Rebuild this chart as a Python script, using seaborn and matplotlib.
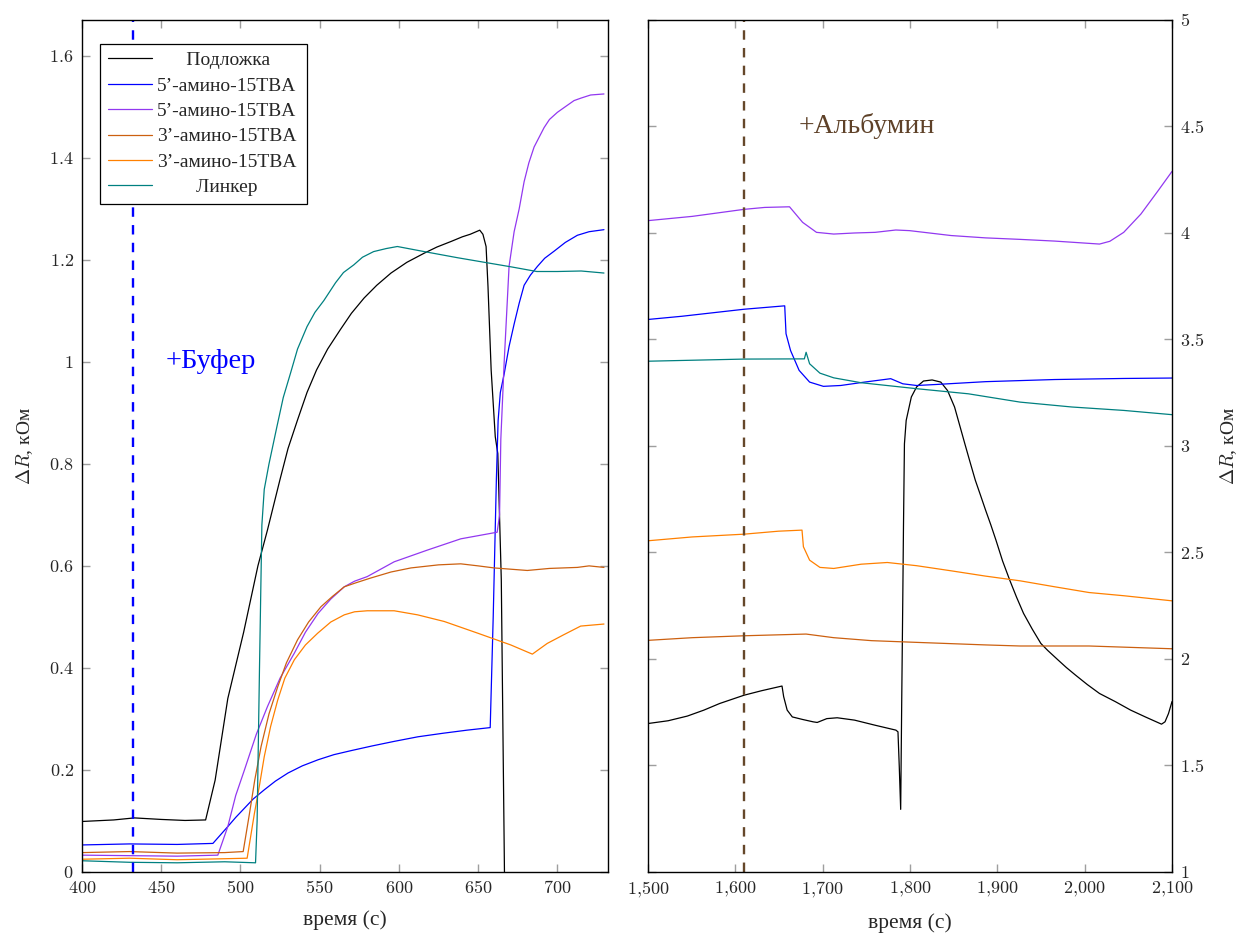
import numpy as np
import pandas as pd
import matplotlib
matplotlib.use('Agg')
import matplotlib.pyplot as plt
import seaborn as sns
from matplotlib.ticker import FuncFormatter, MultipleLocator

# --- data: left panel (буфер) ---
labels = ['Подложка', '5’-амино-15TBA', '5’-амино-15TBA', '3’-амино-15TBA', '3’-амино-15TBA', 'Линкер']
colors = ['black', '#0000ff', '#9238f0', '#cc6010', '#ff8000', '#008080']

l_x_podl = [400, 420, 433, 450, 465, 478, 484, 492, 502, 511, 517, 525, 530, 536, 542, 548, 555, 563, 570, 578,
            586, 595, 605, 616, 624, 633, 640, 645, 651, 653, 655, 656.2, 658.2, 660.8, 662.4, 664.6, 666.6, 667.5]
l_y_podl = [0.099, 0.102, 0.106, 0.103, 0.101, 0.102, 0.18, 0.34, 0.47, 0.60, 0.67, 0.77, 0.83, 0.886, 0.94, 0.984,
            1.025, 1.063, 1.095, 1.125, 1.15, 1.174, 1.195, 1.213, 1.225, 1.236, 1.245, 1.25, 1.258, 1.25, 1.226,
            1.148, 0.984, 0.853, 0.82, 0.573, 0.0, -0.1]

l_x_5a = [400, 430, 460, 482.6, 492, 497, 502.5, 508, 515, 522, 530, 539, 549, 559, 570, 583, 597, 612, 628, 643,
          657.6, 659.5, 661.5, 662.6, 664, 666.4, 669.5, 672.7, 675.9, 679, 683, 687.4, 692, 698, 705, 712.6, 720,
          729.4]
l_y_5a = [0.053, 0.055, 0.054, 0.056, 0.089, 0.107, 0.125, 0.143, 0.161, 0.178, 0.194, 0.208, 0.22, 0.23, 0.238,
          0.247, 0.256, 0.265, 0.272, 0.278, 0.283, 0.5, 0.77, 0.885, 0.94, 0.976, 1.03, 1.074, 1.115, 1.15, 1.17,
          1.187, 1.203, 1.217, 1.234, 1.248, 1.255, 1.259]

l_x_5b = [400, 430, 460, 485.7, 492, 497, 502.5, 510, 517, 525, 534, 541, 549, 557, 565.5, 572, 580, 597, 618, 639,
          662, 663.5, 664.3, 666.4, 669.5, 672.7, 675.9, 679, 682, 685.3, 691.6, 695, 700, 705, 710.5, 715, 721,
          729.4]
l_y_5b = [0.033, 0.032, 0.031, 0.033, 0.089, 0.15, 0.2, 0.27, 0.324, 0.38, 0.429, 0.47, 0.507, 0.535, 0.559, 0.57,
          0.579, 0.608, 0.631, 0.653, 0.666, 0.7, 0.848, 0.998, 1.187, 1.255, 1.30, 1.353, 1.39, 1.421, 1.459, 1.475,
          1.489, 1.50, 1.512, 1.517, 1.523, 1.525]

l_x_3a = [400, 430, 460, 490, 501.7, 505.7, 509, 513, 518, 523.5, 529, 536, 543, 550.8, 558, 565.5, 573, 582, 595,
          607.6, 625, 639, 650, 660, 681, 695, 712.6, 720, 729.4]
l_y_3a = [0.038, 0.04, 0.037, 0.038, 0.04, 0.115, 0.18, 0.246, 0.31, 0.363, 0.41, 0.455, 0.49, 0.52, 0.54, 0.559,
          0.567, 0.576, 0.588, 0.596, 0.602, 0.604, 0.6, 0.596, 0.591, 0.595, 0.597, 0.6, 0.597]

l_x_3b = [400, 430, 460, 490, 504.2, 508.8, 512, 515, 519, 523.5, 528, 534, 541, 548.7, 557, 565.5, 572, 580, 597,
          611.8, 628.6, 649.8, 670.6, 684.2, 693.6, 704, 714.7, 729.4]
l_y_3b = [0.025, 0.027, 0.024, 0.026, 0.027, 0.115, 0.17, 0.226, 0.285, 0.337, 0.38, 0.416, 0.445, 0.468, 0.49,
          0.504, 0.51, 0.512, 0.512, 0.504, 0.491, 0.468, 0.445, 0.427, 0.448, 0.465, 0.482, 0.486]

l_x_link = [400, 430, 460, 490, 509.5, 510.5, 512, 513.5, 515, 518, 523, 527, 531.6, 536, 542, 547, 552.6, 560,
            565, 571.5, 577, 584, 592, 599, 616, 637, 654, 671, 687, 700, 715, 729.4]
l_y_link = [0.022, 0.019, 0.018, 0.02, 0.018, 0.1, 0.4, 0.68, 0.75, 0.80, 0.873, 0.93, 0.978, 1.025, 1.069, 1.097,
            1.12, 1.155, 1.175, 1.19, 1.205, 1.216, 1.222, 1.226, 1.216, 1.204, 1.195, 1.186, 1.177, 1.177, 1.178,
            1.174]

# --- data: right panel (альбумин) ---
r_x_podl = [1500, 1523, 1545, 1564, 1582, 1610, 1630, 1653.4, 1655.3, 1659.3, 1665.2, 1677, 1689, 1693.7, 1704.7,
            1716.6, 1736.4, 1760, 1783.8, 1786.2, 1787.7, 1789.3, 1790.5, 1791.7, 1792.5, 1793.6, 1795.6, 1801.5,
            1807.5, 1815.4, 1825.3, 1835.2, 1843, 1851, 1862.8, 1868.7, 1874.7, 1880.6, 1886.6, 1892.5, 1898.4, 1906,
            1914.2, 1922, 1930, 1940, 1949.8, 1957.7, 1969.6, 1979, 1989.3, 2003, 2017, 2035, 2052.6, 2070, 2088,
            2092, 2096, 2100]
r_y_podl = [1.697, 1.71, 1.732, 1.76, 1.791, 1.83, 1.851, 1.873, 1.823, 1.76, 1.728, 1.716, 1.705, 1.702, 1.72,
            1.724, 1.713, 1.689, 1.666, 1.658, 1.493, 1.294, 1.807, 2.28, 2.62, 3.01, 3.12, 3.23, 3.277, 3.305, 3.31,
            3.3, 3.26, 3.183, 3.01, 2.925, 2.84, 2.77, 2.698, 2.63, 2.558, 2.46, 2.37, 2.29, 2.214, 2.14, 2.073, 2.04,
            1.995, 1.96, 1.925, 1.88, 1.838, 1.80, 1.76, 1.727, 1.694, 1.705, 1.744, 1.8]

r_x_5a = [1500, 1538.7, 1610, 1656.5, 1658, 1663.2, 1673, 1685, 1700.8, 1720.6, 1748, 1777.9, 1791.7, 1807.5, 1831,
          1886.6, 1965.6, 2044.7, 2100]
r_y_5a = [3.594, 3.609, 3.642, 3.658, 3.527, 3.448, 3.355, 3.3, 3.28, 3.284, 3.3, 3.316, 3.292, 3.284, 3.289,
          3.302, 3.312, 3.317, 3.319]

r_x_5b = [1500, 1550.6, 1610, 1633.6, 1662, 1677, 1692.9, 1712.6, 1736.4, 1760, 1783.7, 1799.5, 1847, 1886.6,
          1926, 1965.6, 2017, 2028.8, 2044.7, 2064.4, 2084, 2100]
r_y_5b = [4.058, 4.078, 4.111, 4.12, 4.123, 4.05, 4.003, 3.995, 4.0, 4.003, 4.014, 4.011, 3.988, 3.977, 3.97,
          3.962, 3.948, 3.961, 4.003, 4.089, 4.198, 4.289]

r_x_3a = [1500, 1550.6, 1610, 1681, 1712.6, 1756, 1807.5, 1886.6, 1926, 2005, 2100]
r_y_3a = [2.0875, 2.1, 2.109, 2.117, 2.1, 2.086, 2.078, 2.066, 2.061, 2.061, 2.048]

r_x_3b = [1500, 1550.6, 1610, 1649.4, 1676.3, 1677.9, 1685, 1696.8, 1712.6, 1744, 1774, 1807.5, 1847, 1886.6, 1926,
          1965.6, 2005, 2044.7, 2100]
r_y_3b = [2.555, 2.573, 2.586, 2.6, 2.605, 2.527, 2.464, 2.43, 2.425, 2.445, 2.453, 2.438, 2.414, 2.389, 2.367,
          2.339, 2.312, 2.297, 2.273]

r_x_link = [1500, 1610, 1679, 1681, 1685, 1696.8, 1712.6, 1744, 1807.5, 1866.8, 1926, 1985.4, 2044.7, 2100]
r_y_link = [3.398, 3.408, 3.409, 3.44, 3.386, 3.342, 3.32, 3.297, 3.269, 3.245, 3.206, 3.183, 3.167, 3.147]

buffer_x = 432
albumin_x = 1610

left_series = [(l_x_podl, l_y_podl), (l_x_5a, l_y_5a), (l_x_5b, l_y_5b), (l_x_3a, l_y_3a), (l_x_3b, l_y_3b),
               (l_x_link, l_y_link)]
right_series = [(r_x_podl, r_y_podl), (r_x_5a, r_y_5a), (r_x_5b, r_y_5b), (r_x_3a, r_y_3a), (r_x_3b, r_y_3b),
                (r_x_link, r_y_link)]

sns.set_style('white')
plt.rcParams['font.family'] = ['Liberation Serif', 'DejaVu Serif']
plt.rcParams['mathtext.fontset'] = 'cm'

fig = plt.figure(figsize=(12.41, 9.34), dpi=100)
ax1 = fig.add_axes([0.0661, 0.0664, 0.4239, 0.9122])
ax2 = fig.add_axes([0.5222, 0.0664, 0.4222, 0.9122])

for (x, y), c, lab in zip(left_series, colors, labels):
    sns.lineplot(x=x, y=y, ax=ax1, color=c, lw=0.9, estimator=None, sort=False, label=lab)
for (x, y), c in zip(right_series, colors):
    sns.lineplot(x=x, y=y, ax=ax2, color=c, lw=0.9, estimator=None, sort=False)

ax1.axvline(buffer_x, color='#0000ff', lw=1.7, ls=(0, (4, 3.5)))
ax2.axvline(albumin_x, color='#65472a', lw=1.7, ls=(0, (4, 3.5)))

ax1.text(481, 1.0, '+Буфер', color='#0000ff', fontsize=20.5, ha='center', va='center')
ax2.text(1750, 4.5, '+Альбумин', color='#5e4128', fontsize=20, ha='center', va='center')

ax1.set_xlim(400, 732)
ax1.set_ylim(0, 1.67)
ax1.xaxis.set_major_locator(MultipleLocator(50))
ax1.yaxis.set_major_locator(MultipleLocator(0.2))
ax1.xaxis.set_major_formatter(FuncFormatter(lambda v, p: f'${v:g}$'))
ax1.yaxis.set_major_formatter(FuncFormatter(lambda v, p: f'${round(v, 2):g}$'))

ax2.set_xlim(1500, 2100)
ax2.set_ylim(1, 5)
ax2.xaxis.set_major_locator(MultipleLocator(100))
ax2.yaxis.set_major_locator(MultipleLocator(0.5))
ax2.xaxis.set_major_formatter(FuncFormatter(lambda v, p: '$' + f'{int(round(v)):,}'.replace(',', '{,}') + '$'))
ax2.yaxis.set_major_formatter(FuncFormatter(lambda v, p: f'${v:g}$'))
ax2.yaxis.tick_right()
ax2.yaxis.set_label_position('right')

for ax in (ax1, ax2):
    ax.tick_params(direction='in', top=True, bottom=True, left=True, right=True, length=6, width=1,
                   color='0.62', labelsize=13, pad=6)
    for sp in ax.spines.values():
        sp.set_color('black')
        sp.set_linewidth(1)
    ax.set_xlabel('время (с)', fontsize=15.5, labelpad=9)
    ax.set_ylabel(r'$\Delta R$, кОм', fontsize=14, labelpad=10)

ax2.tick_params(labelleft=False, labelright=True)

# legend with centred labels (pad shorter labels with spaces)
leg_fs = 14
r = fig.canvas.get_renderer()
def text_w(s):
    t = fig.text(0, 0, s, fontsize=leg_fs)
    w = t.get_window_extent(r).width
    t.remove()
    return w
space_w = (text_w('a' + ' ' * 20 + 'a') - text_w('aa')) / 20
max_w = max(text_w(s) for s in labels)
padded = []
for s in labels:
    n = int(round((max_w - text_w(s)) / 2 / space_w))
    padded.append(' ' * n + s + ' ' * n)

handles = ax1.get_legend_handles_labels()[0]
leg = ax1.legend(handles, padded, loc='upper left', bbox_to_anchor=(0.034, 0.972), borderaxespad=0,
                 fontsize=leg_fs, frameon=True, fancybox=False, edgecolor='black', framealpha=1,
                 handlelength=2.3, handletextpad=0.25, labelspacing=0.4, borderpad=0.4)
leg.get_frame().set_linewidth(0.9)

fig.savefig('out.png', dpi=100)
